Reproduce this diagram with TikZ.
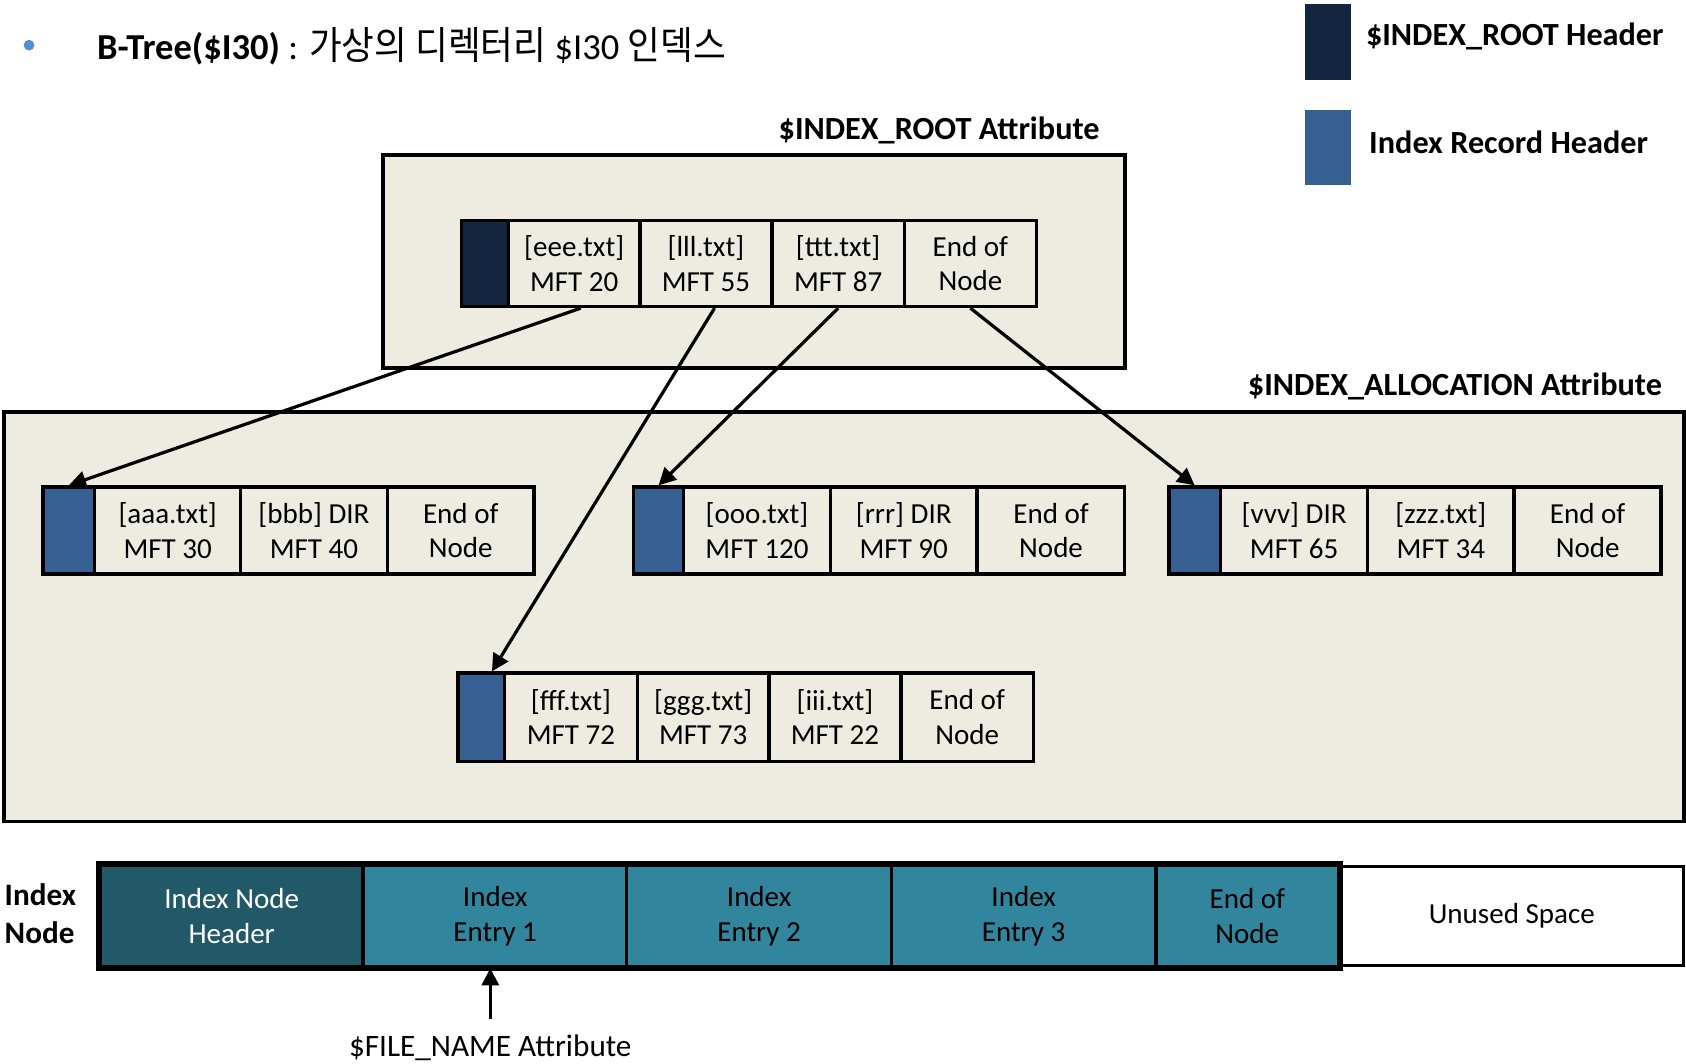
\documentclass[tikz,border=0pt]{standalone}
\usepackage{fontspec}
\setmainfont{Carlito}
\newfontfamily\cjk[FakeStretch=0.92]{Noto Sans CJK KR}
\usetikzlibrary{arrows.meta}
\definecolor{rootnavy}{HTML}{132640}
\definecolor{recblue}{HTML}{376092}
\definecolor{beige}{HTML}{EEECE1}
\definecolor{darkteal}{HTML}{215968}
\definecolor{tealmid}{HTML}{31859C}
\definecolor{bulletblue}{HTML}{558ED5}
\begin{document}
\begin{tikzpicture}[x=0.5pt,y=-0.5pt,
  cellfont/.style={font=\fontsize{13.5}{16}\selectfont},
  cell/.style={draw=black, line width=1.6pt, fill=beige, inner sep=0pt, align=center, cellfont},
  rootcell/.style={cell, minimum height=40pt, minimum width=61.5pt},
  reccell/.style={cell, minimum height=40.5pt, minimum width=68.3pt},
  dcell/.style={cell, minimum height=41pt, minimum width=61.5pt},
  roothead/.style={draw=black, line width=1.6pt, fill=rootnavy, inner sep=0pt},
  rechead/.style={draw=black, line width=1.6pt, fill=recblue, inner sep=0pt},
  attrbox/.style={draw=black, line width=1.8pt, fill=beige, inner sep=0pt},
  attrlabel/.style={font=\bfseries\fontsize{15}{18}\selectfont, inner sep=0pt},
  conn/.style={line width=1.5pt, -{Triangle[length=8pt,width=8pt]}},
  barcell/.style={draw=black, line width=1.5pt, inner sep=0pt, minimum height=47pt, align=center, cellfont},
]
\useasboundingbox (0,0) rectangle (1568,989);

% title
\node[circle, fill=bulletblue, inner sep=0pt, minimum size=5pt] (bullet) at (27,42) {};
\node[anchor=west, inner sep=0pt, font=\fontsize{17}{20}\selectfont] (title) at (90,43)
  {\textbf{B-Tree(\$I30)} : {\cjk\fontsize{18}{20}\selectfont 가상의 디렉터리} \$I30 {\cjk\fontsize{18}{20}\selectfont 인덱스}};

% legend
\node[fill=rootnavy, minimum width=21pt, minimum height=35pt, inner sep=0pt] (lgroot) at (1235,39) {};
\node[attrlabel, anchor=west] (lgroottxt) at (1270,34) {\$INDEX\_ROOT Header};
\node[fill=recblue, minimum width=21pt, minimum height=35pt, inner sep=0pt] (lgrec) at (1235,137) {};
\node[attrlabel, anchor=west] (lgrectxt) at (1273,132) {Index Record Header};

% attribute boxes
\node[attrlabel, anchor=east] (rootlbl) at (1023,121) {\$INDEX\_ROOT Attribute};
\node[attrbox, minimum width=345pt, minimum height=99pt] (rootbox) at (701,243) {};
\node[attrlabel, anchor=east] (alloclbl) at (1546,359) {\$INDEX\_ALLOCATION Attribute};
\node[attrbox, minimum width=781pt, minimum height=190.5pt] (allocbox) at (785,573.5) {};

% root record
\node[roothead, minimum width=22pt, minimum height=40pt] (rh) at (451,245) {};
\node[rootcell, minimum width=61pt] (r1) at (534,245) {[eee.txt]\\MFT 20};
\node[rootcell] (r2) at (656.5,245) {[lll.txt]\\MFT 55};
\node[rootcell] (r3) at (779.5,245) {[ttt.txt]\\MFT 87};
\node[rootcell] (r4) at (902.5,245) {End of\\Node};

% record A
\node[rechead, minimum width=24pt, minimum height=40.5pt] (ah) at (64,493.5) {};
\node[reccell] (a1) at (156,493.5) {[aaa.txt]\\MFT 30};
\node[reccell] (a2) at (292,493.5) {[bbb] DIR\\MFT 40};
\node[reccell] (a3) at (428.5,493.5) {End of\\Node};

% record B
\node[rechead, minimum width=23.5pt, minimum height=40.5pt] (bh) at (612.5,493.5) {};
\node[reccell] (b1) at (704,493.5) {[ooo.txt]\\MFT 120};
\node[reccell] (b2) at (840.5,493.5) {[rrr] DIR\\MFT 90};
\node[reccell] (b3) at (977.5,493.5) {End of\\Node};

% record C
\node[rechead, minimum width=24pt, minimum height=40.5pt] (ch) at (1111,493.5) {};
\node[reccell] (c1) at (1203.5,493.5) {[vvv] DIR\\MFT 65};
\node[reccell] (c2) at (1340,493.5) {[zzz.txt]\\MFT 34};
\node[reccell] (c3) at (1476.5,493.5) {End of\\Node};

% record D
\node[rechead, minimum width=21.5pt, minimum height=41pt] (dh) at (447.5,667) {};
\node[dcell, minimum width=62pt] (d1) at (531,667) {[fff.txt]\\MFT 72};
\node[dcell, minimum width=61pt] (d2) at (654,667) {[ggg.txt]\\MFT 73};
\node[dcell] (d3) at (776.5,667) {[iii.txt]\\MFT 22};
\node[dcell] (d4) at (899.5,667) {End of\\Node};

% connectors
\draw[conn] ([xshift=3pt]r1.south) -- (ah.north);
\draw[conn] ([xshift=4pt]r2.south) -- ([xshift=5pt]dh.north);
\draw[conn] (r3.south) -- (bh.north);
\draw[conn] (r4.south) -- (ch.north);

% index node bar
\node[anchor=west, inner sep=0pt, align=left, font=\bfseries\fontsize{14.5}{17.5}\selectfont] (ixlbl) at (4,850) {Index\\Node};
\node[barcell, fill=darkteal, text=white, minimum width=122pt] (nh) at (215.5,852) {Index Node\\Header};
\node[barcell, fill=tealmid, minimum width=122.5pt] (e1) at (460.5,852) {Index\\Entry 1};
\node[barcell, fill=tealmid, minimum width=123pt] (e2) at (706,852) {Index\\Entry 2};
\node[barcell, fill=tealmid, minimum width=123pt] (e3) at (952,852) {Index\\Entry 3};
\node[barcell, fill=tealmid, minimum width=84.5pt] (en) at (1160,852) {End of\\Node};
\node[barcell, fill=white, minimum width=160pt, minimum height=46pt] (unused) at (1406,852) {Unused Space};
\draw[line width=2.8pt] (nh.north west) rectangle (en.south east);

% file name arrow
\node[inner sep=0pt, font=\fontsize{14.5}{17}\selectfont] (fnlbl) at (456,974) {\$FILE\_NAME Attribute};
\coordinate (fnstart) at (456,948);
\draw[conn] (fnstart) -- (fnstart |- e1.south);
\end{tikzpicture}
\end{document}
